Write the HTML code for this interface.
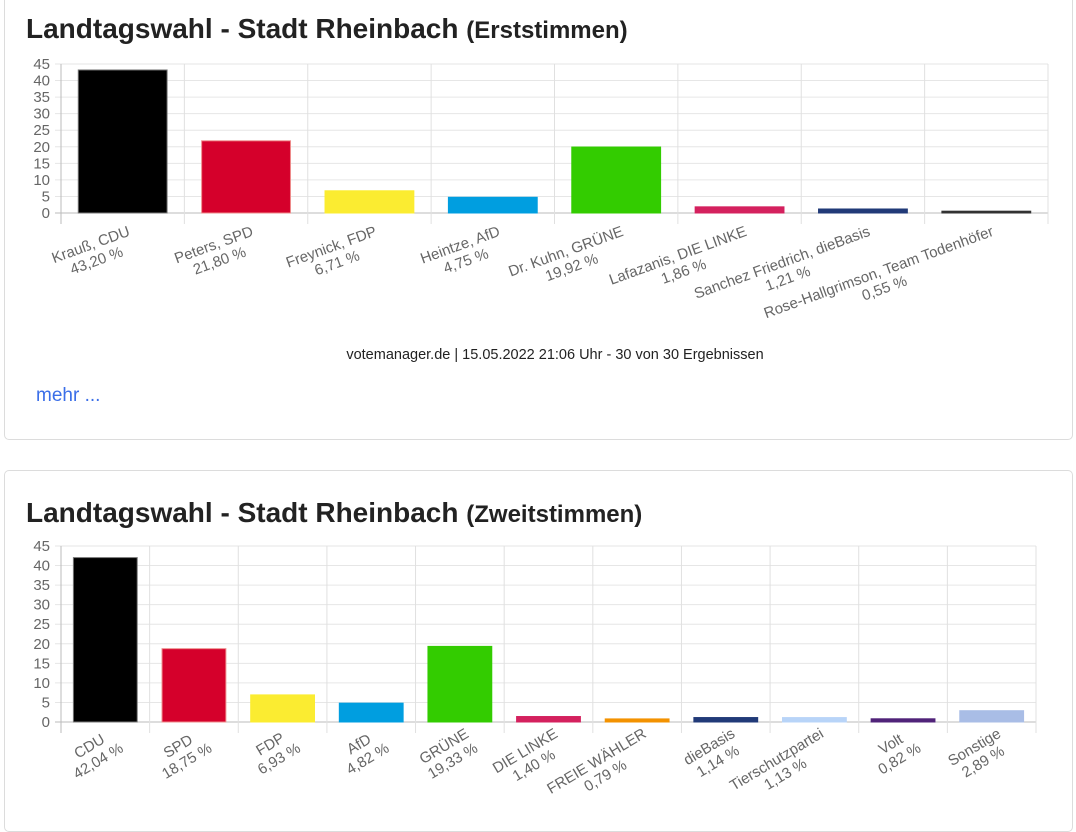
<!DOCTYPE html>
<html><head><meta charset="utf-8">
<style>
body{margin:0;background:#fff;font-family:"Liberation Sans",Arial,sans-serif;width:1076px;height:812px;overflow:hidden;position:relative}
.card{position:absolute;left:4px;width:1067px;border:1px solid #dcdcdc;border-radius:5px;background:#fff}
.title{position:absolute;left:21px;font-size:28px;color:#222;white-space:nowrap;font-weight:bold}
.title small{font-size:24px}
svg{position:absolute;left:0;top:0}
.foot{position:absolute;left:0;width:1100px;text-align:center;font-size:14.5px;color:#222}
.mehr{position:absolute;left:31px;font-size:19px;color:#3a6ee8}
</style></head><body>
<div class="card" style="top:-5px;height:443px">
 <div class="title" style="top:17px">Landtagswahl - Stadt Rheinbach <small>(Erststimmen)</small></div>
 <div class="foot" style="top:351px">votemanager.de | 15.05.2022 21:06 Uhr - 30 von 30 Ergebnissen</div>
 <div class="mehr" style="top:389px">mehr ...</div>
</div>
<div class="card" style="top:470px;height:360px">
 <div class="title" style="top:26px">Landtagswahl - Stadt Rheinbach <small>(Zweitstimmen)</small></div>
</div>
<svg id="s" width="1076" height="812" font-family="Liberation Sans, Arial, sans-serif"></svg>
<script>
var S=document.getElementById('s'),NS='http://www.w3.org/2000/svg';
function el(t,a,txt){var e=document.createElementNS(NS,t);for(var k in a)e.setAttribute(k,a[k]);if(txt!=null)e.textContent=txt;S.appendChild(e);return e;}
function chart(o){
 var x0=61,x1=o.x1,y0=o.y0,y45=o.y45,n=o.d.length,w=(x1-x0)/n,u=(y0-y45)/45;
 for(var v=0;v<=45;v+=5){var y=y0-v*u;el('line',{x1:x0-6,x2:x1,y1:y,y2:y,stroke:v==0?'#bbb':'#e6e6e6','stroke-width':1});
  el('text',{x:50,y:y+5,'text-anchor':'end','font-size':15,fill:'#666'},v);}
 for(var i=0;i<=n;i++){var x=x0+i*w;el('line',{x1:x,x2:x,y1:y45,y2:y0+11,stroke:i==0?'#bbb':'#e0e0e0'});}
 o.d.forEach(function(d,i){
  var cx=x0+(i+.5)*w,bw=w*o.bf,h=d[2]*u;
  el('rect',{x:cx-bw/2,y:y0-h,width:bw,height:h,fill:d[3],stroke:d[4]||d[3],'stroke-width':1});
  var g=document.createElementNS(NS,'g');S.appendChild(g);
  var ts=[d[0],d[1]].map(function(s){var t=document.createElementNS(NS,'text');t.setAttribute('font-size',15);t.setAttribute('fill','#666');t.textContent=s;g.appendChild(t);return t;});
  var wm=Math.max(ts[0].getComputedTextLength(),ts[1].getComputedTextLength());
  ts.forEach(function(t,j){t.setAttribute('text-anchor','middle');t.setAttribute('x',-wm/2);t.setAttribute('y',12+j*17);});
  g.setAttribute('transform','translate('+(cx+4)+','+(y0+o.dy)+') rotate('+o.rot+')');
 });
}
chart({x1:1048,y0:213,y45:64,bf:0.72,rot:-20,dy:11,d:[
['Krauß, CDU','43,20 %',43.2,'#000','#777'],['Peters, SPD','21,80 %',21.8,'#d5002b','#e88'],['Freynick, FDP','6,71 %',6.71,'#fbec31'],
['Heintze, AfD','4,75 %',4.75,'#009ee0'],['Dr. Kuhn, GRÜNE','19,92 %',19.92,'#33cc00'],['Lafazanis, DIE LINKE','1,86 %',1.86,'#d4215e'],
['Sanchez Friedrich, dieBasis','1,21 %',1.21,'#213a78'],['Rose-Hallgrimson, Team Todenhöfer','0,55 %',0.55,'#333']]});
chart({x1:1036,y0:722,y45:546,bf:0.72,rot:-31,dy:4,d:[
['CDU','42,04 %',42.04,'#000','#777'],['SPD','18,75 %',18.75,'#d5002b','#e88'],['FDP','6,93 %',6.93,'#fbec31'],['AfD','4,82 %',4.82,'#009ee0'],
['GRÜNE','19,33 %',19.33,'#33cc00'],['DIE LINKE','1,40 %',1.4,'#d4215e'],['FREIE WÄHLER','0,79 %',0.79,'#f39200'],['dieBasis','1,14 %',1.14,'#213a78'],
['Tierschutzpartei','1,13 %',1.13,'#b8d4f8'],['Volt','0,82 %',0.82,'#502379'],['Sonstige','2,89 %',2.89,'#a9bde6']]});
</script>
</body></html>
